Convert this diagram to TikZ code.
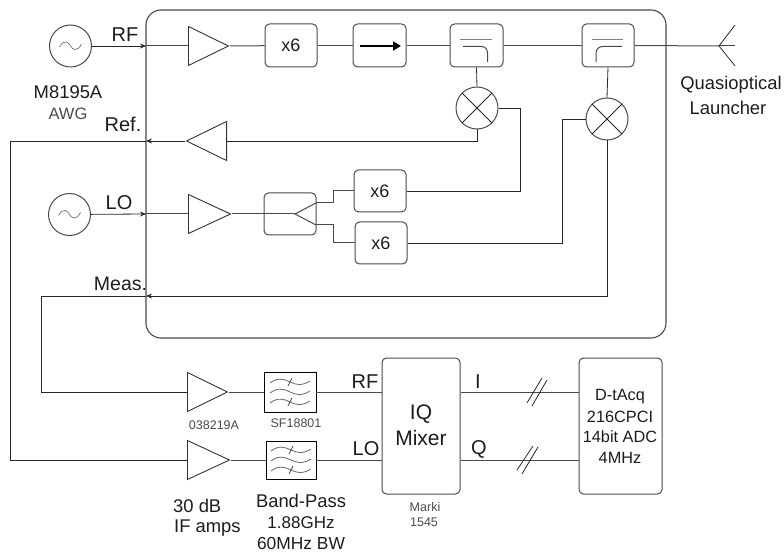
\documentclass[tikz,border=0pt]{standalone}
\usepackage{fontspec}
\setmainfont{Liberation Sans}
\usetikzlibrary{shapes.geometric,arrows.meta}
\definecolor{edge}{HTML}{4A4A4A}
\definecolor{ink}{HTML}{1C1C1C}
\tikzset{
  rbox/.style={draw=edge,line width=1pt,rounded corners=4.5pt,inner sep=0pt,text=ink,font=\fontsize{18}{20}\selectfont},
  sqbox/.style={draw=black,line width=0.9pt,inner sep=0pt},
  circ/.style={draw=edge,line width=1pt,circle,minimum size=42pt,inner sep=0pt},
  ampl/.style={draw=black!80,line width=0.9pt,isosceles triangle,isosceles triangle stretches,minimum width=39pt,minimum height=40pt,inner sep=0pt,anchor=lower side},
  wire/.style={line width=0.8pt,draw=black!85},
  gwire/.style={line width=1pt,draw=edge},
  arr/.style={wire,-{Stealth[length=6pt,width=5pt]}},
  lab/.style={text=ink,inner sep=0pt,font=\fontsize{20}{22}\selectfont},
  mlab/.style={text=ink,inner sep=0pt,font=\fontsize{18.4}{20}\selectfont},
  slab/.style={text=edge,inner sep=0pt,font=\fontsize{12.5}{14}\selectfont},
  adclab/.style={text=ink,inner sep=0pt,font=\fontsize{16.3}{18}\selectfont},
  inner/.style={line width=1pt,draw=edge}
}
\newcommand{\tildeat}[2]{\draw[line width=0.7pt,draw=edge!80] (#1-11,#2+1) .. controls (#1-6,#2-8) and (#1-1,#2-3) .. (#1,#2) .. controls (#1+2,#2+4) and (#1+7,#2+6) .. (#1+11,#2-2);}
\newcommand{\waveat}[2]{\draw[line width=0.8pt,draw=edge!85] (#1-20,#2+1) .. controls (#1-12,#2-5) and (#1-6,#2-3) .. (#1,#2) .. controls (#1+6,#2+3) and (#1+12,#2+4) .. (#1+20,#2-1);}
\newcommand{\filtinside}[2]{\waveat{#1}{#2-10}\waveat{#1}{#2}\waveat{#1}{#2+10}%
  \draw[line width=0.7pt,draw=edge] (#1-2,#2-6) -- (#1+2,#2-14) (#1-2,#2+14) -- (#1+2,#2+6);}
\begin{document}
\begin{tikzpicture}[x=1pt,y=-1pt]
\useasboundingbox (0,0) rectangle (784,553);
% enclosure
\node[draw=edge,line width=1.1pt,rounded corners=15pt,minimum width=520pt,minimum height=328pt,inner sep=0pt] (encl) at (406,174) {};
\coordinate (prf) at (146,46);
\coordinate (pref) at (146,141);
\coordinate (plo) at (146,214);
\coordinate (pmeas) at (146,296);
% sources
\node[circ] (s1) at (70.5,46) {};
\node[circ] (s2) at (69.5,214.5) {};
\tildeat{70.5}{46}
\tildeat{69.5}{214.5}
% amplifiers
\node[ampl] (a1) at (188,46) {};
\node[ampl,shape border rotate=180] (a2) at (227,141) {};
\node[ampl,minimum height=42pt] (a3) at (188,214) {};
\node[ampl] (a4) at (187,392) {};
\node[ampl,minimum height=42pt] (a5) at (187,460) {};
% boxes
\node[rbox,minimum width=52pt,minimum height=43pt] (x1) at (291,45.5) {x6};
\node[rbox,minimum width=53pt,minimum height=43pt] (iso) at (379.5,45.5) {};
\node[rbox,minimum width=53pt,minimum height=43pt] (c1) at (476.5,45.5) {};
\node[rbox,minimum width=52pt,minimum height=43pt] (c2) at (608,45.5) {};
\node[rbox,minimum width=52pt,minimum height=42pt] (sp) at (290,214) {};
\node[rbox,minimum width=52pt,minimum height=42pt] (x2) at (380,191) {x6};
\node[rbox,minimum width=52pt,minimum height=42pt] (x3) at (381,243) {x6};
\node[circ] (m1) at (477,108) {};
\node[circ] (m2) at (607,119) {};
\node[sqbox,minimum width=52pt,minimum height=40pt] (f1) at (290,392) {};
\node[sqbox,minimum width=50pt,minimum height=38pt] (f2) at (291,460) {};
\node[rbox,minimum width=78pt,minimum height=136pt] (iq) at (421,426) {};
\node[rbox,minimum width=83pt,minimum height=136pt] (adc) at (620.5,426) {};
\coordinate (anttip) at (719,46);
\coordinate (ant1) at (735,25);
\coordinate (ant2) at (735,46);
\coordinate (ant3) at (735,66);
% details
\draw[line width=2.6pt,-{Stealth[length=8pt,width=9pt,inset=0pt]},draw=black] (360,46) -- (401,46);
\draw[line width=1pt,draw=edge!70] (460,40) -- (492,40);
\draw[inner] (463,46.5) -- (481,46.5) .. controls (485,46.5) and (487.5,49) .. (487.5,53) -- (487.5,62);
\draw[line width=1pt,draw=edge!70] (592,40) -- (623,40);
\draw[inner] (622,46.5) -- (603,46.5) .. controls (599,46.5) and (596,49) .. (596,53) -- (596,62);
\draw[wire] (m1.north west) -- (m1.south east) (m1.north east) -- (m1.south west);
\draw[wire] (m2.north west) -- (m2.south east) (m2.north east) -- (m2.south west);
\filtinside{290}{392}
\filtinside{291}{460}
% splitter
\coordinate (sptip) at (295,214);
\coordinate (spa) at (316,203);
\coordinate (spb) at (316,225);
\draw[inner] (spa) -- (sptip) -- (spb);
% connectors
\draw[arr] (s1) -- (prf);
\draw[gwire] (prf) -- (a1.lower side);
\draw[gwire] (a1.apex) -- (x1);
\draw[gwire] (x1) -- (iso);
\draw[gwire] (iso) -- (c1);
\draw[gwire] (c1) -- (c2);
\draw[gwire] (c2.east) -- (anttip);
\draw[gwire] (anttip) -- (ant2);
\draw[wire] (ant1) -- (anttip) -- (ant3);
\draw[wire] (c1.south) -- (m1.north);
\draw[wire] (c2.south) -- (m2.north);
\draw[wire] (m1.south) |- (a2.lower side);
\draw[arr] (a2.apex) -- (pref);
\draw[wire] (pref) -| (10,460) -- (a5.lower side);
\draw[arr] (s2) -- (plo);
\draw[gwire] (plo) -- (a3.lower side);
\draw[gwire] (a3.apex) -- (sptip);
\draw[gwire] (spa) -- (333,203) |- (x2.west);
\draw[gwire] (spb) -- (333,225) |- (x3.west);
\draw[wire] (x2.east) -| (520,108) -- (m1.east);
\draw[wire] (x3.east) -| (562,119) -- (m2.west);
\draw[arr] (m2.south) |- (pmeas);
\draw[wire] (pmeas) -| (41,392) -- (a4.lower side);
\draw[gwire] (a4.apex) -- (f1);
\draw[gwire] (a5.apex) -- (f2);
\draw[gwire] (f1.east) -- (iq.west |- f1.east);
\draw[gwire] (f2.east) -- (iq.west |- f2.east);
\draw[gwire] (iq.east |- f1.east) -- (adc.west |- f1.east);
\draw[gwire] (iq.east |- f2.east) -- (adc.west |- f2.east);
\draw[wire] (527,403) -- (542,378) (532,406) -- (547,380);
\draw[wire] (517,470) -- (533,446) (522,474) -- (538,447);
% labels
\node[lab] (trf) at (125,35) {RF};
\node[mlab] (tm) at (68,92) {M8195A};
\node[mlab,font=\fontsize{16.5}{18}\selectfont,text=edge] (tawg) at (68,114) {AWG};
\node[lab] (tref) at (123,124) {Ref.};
\node[lab] (tlo) at (119,203) {LO};
\node[mlab,font=\fontsize{19.5}{21}\selectfont] (tmeas) at (120.5,284) {Meas.};
\node[mlab] (tq) at (731,85) {Quasioptical};
\node[mlab] (tl) at (728,108) {Launcher};
\node[slab] (t1) at (214,425) {038219A};
\node[slab] (t2) at (296,423) {SF18801};
\node[mlab,anchor=west] (t3) at (173,506) {30 dB};
\node[mlab,anchor=west] (t4) at (174,528) {IF amps};
\node[mlab] (t5) at (301,501) {Band-Pass};
\node[mlab,font=\fontsize{17}{19}\selectfont] (t6) at (301,523) {1.88GHz};
\node[mlab,font=\fontsize{17.4}{19}\selectfont] (t7) at (301,544) {60MHz BW};
\node[lab] (t8) at (365,382) {RF};
\node[lab] (t9) at (366,449) {LO};
\node[lab,font=\fontsize{21}{23}\selectfont] (t10) at (421,414) {IQ};
\node[lab,font=\fontsize{21}{23}\selectfont] (t11) at (421,438) {Mixer};
\node[slab] (t12) at (425,507) {Marki};
\node[slab] (t13) at (424,522) {1545};
\node[lab] (t14) at (478,382) {I};
\node[lab] (t15) at (479,449) {Q};
\node[adclab] (t16) at (620,397) {D-tAcq};
\node[adclab] (t17) at (620,417) {216CPCI};
\node[adclab] (t18) at (620,437) {14bit ADC};
\node[adclab] (t19) at (620,458) {4MHz};
\end{tikzpicture}
\end{document}
